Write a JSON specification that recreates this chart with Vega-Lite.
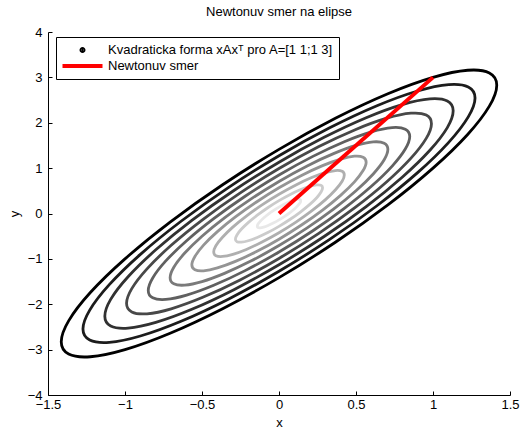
{
  "$schema": "https://vega.github.io/schema/vega-lite/v6.json",
  "width": 462,
  "height": 363,
  "autosize": {"type": "none"},
  "padding": {"left": 48, "top": 32, "right": 10, "bottom": 34},
  "background": "white",
  "config": {
    "view": {"stroke": null},
    "font": "Liberation Sans",
    "axis": {
      "grid": false,
      "domainColor": "black",
      "tickColor": "black",
      "labelColor": "black",
      "titleColor": "black",
      "labelFont": "Liberation Sans",
      "titleFont": "Liberation Sans",
      "labelFontSize": 13,
      "titleFontSize": 13,
      "titleFontWeight": "normal",
      "tickSize": -4,
      "labelFlush": false,
      "labelOverlap": false,
      "labelBound": false,
      "format": "~g"
    }
  },
  "title": {
    "text": "Newtonuv smer na elipse",
    "fontSize": 13,
    "fontWeight": "normal",
    "color": "black",
    "font": "Liberation Sans",
    "anchor": "middle",
    "offset": 7
  },
  "layer": [
    {
      "data": {
        "values": [
          {"lev":1,"i":0,"x":0.141,"y":0.283},{"lev":1,"i":1,"x":0.137,"y":0.310},{"lev":1,"i":2,"x":0.122,"y":0.316},{"lev":1,"i":3,"x":0.1,"y":0.3},{"lev":1,"i":4,"x":0.071,"y":0.264},{"lev":1,"i":5,"x":0.037,"y":0.210},{"lev":1,"i":6,"x":0,"y":0.141},{"lev":1,"i":7,"x":-0.037,"y":0.063},{"lev":1,"i":8,"x":-0.071,"y":-0.019},{"lev":1,"i":9,"x":-0.1,"y":-0.1},{"lev":1,"i":10,"x":-0.122,"y":-0.174},{"lev":1,"i":11,"x":-0.137,"y":-0.237},{"lev":1,"i":12,"x":-0.141,"y":-0.283},{"lev":1,"i":13,"x":-0.137,"y":-0.310},{"lev":1,"i":14,"x":-0.122,"y":-0.316},{"lev":1,"i":15,"x":-0.1,"y":-0.3},{"lev":1,"i":16,"x":-0.071,"y":-0.264},{"lev":1,"i":17,"x":-0.037,"y":-0.210},{"lev":1,"i":18,"x":0,"y":-0.141},{"lev":1,"i":19,"x":0.037,"y":-0.063},{"lev":1,"i":20,"x":0.071,"y":0.019},{"lev":1,"i":21,"x":0.1,"y":0.1},{"lev":1,"i":22,"x":0.122,"y":0.174},{"lev":1,"i":23,"x":0.137,"y":0.237},
          {"lev":2,"i":0,"x":0.283,"y":0.566},{"lev":2,"i":1,"x":0.273,"y":0.620},{"lev":2,"i":2,"x":0.245,"y":0.631},{"lev":2,"i":3,"x":0.2,"y":0.6},{"lev":2,"i":4,"x":0.141,"y":0.528},{"lev":2,"i":5,"x":0.073,"y":0.420},{"lev":2,"i":6,"x":0,"y":0.283},{"lev":2,"i":7,"x":-0.073,"y":0.127},{"lev":2,"i":8,"x":-0.141,"y":-0.038},{"lev":2,"i":9,"x":-0.2,"y":-0.2},{"lev":2,"i":10,"x":-0.245,"y":-0.348},{"lev":2,"i":11,"x":-0.273,"y":-0.473},{"lev":2,"i":12,"x":-0.283,"y":-0.566},{"lev":2,"i":13,"x":-0.273,"y":-0.620},{"lev":2,"i":14,"x":-0.245,"y":-0.631},{"lev":2,"i":15,"x":-0.2,"y":-0.6},{"lev":2,"i":16,"x":-0.141,"y":-0.528},{"lev":2,"i":17,"x":-0.073,"y":-0.420},{"lev":2,"i":18,"x":0,"y":-0.283},{"lev":2,"i":19,"x":0.073,"y":-0.127},{"lev":2,"i":20,"x":0.141,"y":0.038},{"lev":2,"i":21,"x":0.2,"y":0.2},{"lev":2,"i":22,"x":0.245,"y":0.348},{"lev":2,"i":23,"x":0.273,"y":0.473},
          {"lev":3,"i":0,"x":0.424,"y":0.849},{"lev":3,"i":1,"x":0.410,"y":0.929},{"lev":3,"i":2,"x":0.367,"y":0.947},{"lev":3,"i":3,"x":0.3,"y":0.9},{"lev":3,"i":4,"x":0.212,"y":0.792},{"lev":3,"i":5,"x":0.110,"y":0.629},{"lev":3,"i":6,"x":0,"y":0.424},{"lev":3,"i":7,"x":-0.110,"y":0.190},{"lev":3,"i":8,"x":-0.212,"y":-0.057},{"lev":3,"i":9,"x":-0.3,"y":-0.3},{"lev":3,"i":10,"x":-0.367,"y":-0.523},{"lev":3,"i":11,"x":-0.410,"y":-0.710},{"lev":3,"i":12,"x":-0.424,"y":-0.849},{"lev":3,"i":13,"x":-0.410,"y":-0.929},{"lev":3,"i":14,"x":-0.367,"y":-0.947},{"lev":3,"i":15,"x":-0.3,"y":-0.9},{"lev":3,"i":16,"x":-0.212,"y":-0.792},{"lev":3,"i":17,"x":-0.110,"y":-0.629},{"lev":3,"i":18,"x":0,"y":-0.424},{"lev":3,"i":19,"x":0.110,"y":-0.190},{"lev":3,"i":20,"x":0.212,"y":0.057},{"lev":3,"i":21,"x":0.3,"y":0.3},{"lev":3,"i":22,"x":0.367,"y":0.523},{"lev":3,"i":23,"x":0.410,"y":0.710},
          {"lev":4,"i":0,"x":0.566,"y":1.131},{"lev":4,"i":1,"x":0.546,"y":1.239},{"lev":4,"i":2,"x":0.490,"y":1.263},{"lev":4,"i":3,"x":0.4,"y":1.2},{"lev":4,"i":4,"x":0.283,"y":1.056},{"lev":4,"i":5,"x":0.146,"y":0.839},{"lev":4,"i":6,"x":0,"y":0.566},{"lev":4,"i":7,"x":-0.146,"y":0.254},{"lev":4,"i":8,"x":-0.283,"y":-0.076},{"lev":4,"i":9,"x":-0.4,"y":-0.4},{"lev":4,"i":10,"x":-0.490,"y":-0.697},{"lev":4,"i":11,"x":-0.546,"y":-0.946},{"lev":4,"i":12,"x":-0.566,"y":-1.131},{"lev":4,"i":13,"x":-0.546,"y":-1.239},{"lev":4,"i":14,"x":-0.490,"y":-1.263},{"lev":4,"i":15,"x":-0.4,"y":-1.2},{"lev":4,"i":16,"x":-0.283,"y":-1.056},{"lev":4,"i":17,"x":-0.146,"y":-0.839},{"lev":4,"i":18,"x":0,"y":-0.566},{"lev":4,"i":19,"x":0.146,"y":-0.254},{"lev":4,"i":20,"x":0.283,"y":0.076},{"lev":4,"i":21,"x":0.4,"y":0.4},{"lev":4,"i":22,"x":0.490,"y":0.697},{"lev":4,"i":23,"x":0.546,"y":0.946},
          {"lev":5,"i":0,"x":0.707,"y":1.414},{"lev":5,"i":1,"x":0.683,"y":1.549},{"lev":5,"i":2,"x":0.612,"y":1.578},{"lev":5,"i":3,"x":0.5,"y":1.5},{"lev":5,"i":4,"x":0.354,"y":1.319},{"lev":5,"i":5,"x":0.183,"y":1.049},{"lev":5,"i":6,"x":0,"y":0.707},{"lev":5,"i":7,"x":-0.183,"y":0.317},{"lev":5,"i":8,"x":-0.354,"y":-0.095},{"lev":5,"i":9,"x":-0.5,"y":-0.5},{"lev":5,"i":10,"x":-0.612,"y":-0.871},{"lev":5,"i":11,"x":-0.683,"y":-1.183},{"lev":5,"i":12,"x":-0.707,"y":-1.414},{"lev":5,"i":13,"x":-0.683,"y":-1.549},{"lev":5,"i":14,"x":-0.612,"y":-1.578},{"lev":5,"i":15,"x":-0.5,"y":-1.5},{"lev":5,"i":16,"x":-0.354,"y":-1.319},{"lev":5,"i":17,"x":-0.183,"y":-1.049},{"lev":5,"i":18,"x":0,"y":-0.707},{"lev":5,"i":19,"x":0.183,"y":-0.317},{"lev":5,"i":20,"x":0.354,"y":0.095},{"lev":5,"i":21,"x":0.5,"y":0.5},{"lev":5,"i":22,"x":0.612,"y":0.871},{"lev":5,"i":23,"x":0.683,"y":1.183},
          {"lev":6,"i":0,"x":0.849,"y":1.697},{"lev":6,"i":1,"x":0.820,"y":1.859},{"lev":6,"i":2,"x":0.735,"y":1.894},{"lev":6,"i":3,"x":0.6,"y":1.8},{"lev":6,"i":4,"x":0.424,"y":1.583},{"lev":6,"i":5,"x":0.220,"y":1.259},{"lev":6,"i":6,"x":0,"y":0.849},{"lev":6,"i":7,"x":-0.220,"y":0.380},{"lev":6,"i":8,"x":-0.424,"y":-0.114},{"lev":6,"i":9,"x":-0.6,"y":-0.6},{"lev":6,"i":10,"x":-0.735,"y":-1.045},{"lev":6,"i":11,"x":-0.820,"y":-1.420},{"lev":6,"i":12,"x":-0.849,"y":-1.697},{"lev":6,"i":13,"x":-0.820,"y":-1.859},{"lev":6,"i":14,"x":-0.735,"y":-1.894},{"lev":6,"i":15,"x":-0.6,"y":-1.8},{"lev":6,"i":16,"x":-0.424,"y":-1.583},{"lev":6,"i":17,"x":-0.220,"y":-1.259},{"lev":6,"i":18,"x":0,"y":-0.849},{"lev":6,"i":19,"x":0.220,"y":-0.380},{"lev":6,"i":20,"x":0.424,"y":0.114},{"lev":6,"i":21,"x":0.6,"y":0.6},{"lev":6,"i":22,"x":0.735,"y":1.045},{"lev":6,"i":23,"x":0.820,"y":1.420},
          {"lev":7,"i":0,"x":0.990,"y":1.980},{"lev":7,"i":1,"x":0.956,"y":2.169},{"lev":7,"i":2,"x":0.857,"y":2.210},{"lev":7,"i":3,"x":0.7,"y":2.1},{"lev":7,"i":4,"x":0.495,"y":1.847},{"lev":7,"i":5,"x":0.256,"y":1.469},{"lev":7,"i":6,"x":0,"y":0.990},{"lev":7,"i":7,"x":-0.256,"y":0.444},{"lev":7,"i":8,"x":-0.495,"y":-0.133},{"lev":7,"i":9,"x":-0.7,"y":-0.7},{"lev":7,"i":10,"x":-0.857,"y":-1.220},{"lev":7,"i":11,"x":-0.956,"y":-1.656},{"lev":7,"i":12,"x":-0.990,"y":-1.980},{"lev":7,"i":13,"x":-0.956,"y":-2.169},{"lev":7,"i":14,"x":-0.857,"y":-2.210},{"lev":7,"i":15,"x":-0.7,"y":-2.1},{"lev":7,"i":16,"x":-0.495,"y":-1.847},{"lev":7,"i":17,"x":-0.256,"y":-1.469},{"lev":7,"i":18,"x":0,"y":-0.990},{"lev":7,"i":19,"x":0.256,"y":-0.444},{"lev":7,"i":20,"x":0.495,"y":0.133},{"lev":7,"i":21,"x":0.7,"y":0.7},{"lev":7,"i":22,"x":0.857,"y":1.220},{"lev":7,"i":23,"x":0.956,"y":1.656},
          {"lev":8,"i":0,"x":1.131,"y":2.263},{"lev":8,"i":1,"x":1.093,"y":2.478},{"lev":8,"i":2,"x":0.980,"y":2.525},{"lev":8,"i":3,"x":0.8,"y":2.4},{"lev":8,"i":4,"x":0.566,"y":2.111},{"lev":8,"i":5,"x":0.293,"y":1.678},{"lev":8,"i":6,"x":0,"y":1.131},{"lev":8,"i":7,"x":-0.293,"y":0.507},{"lev":8,"i":8,"x":-0.566,"y":-0.152},{"lev":8,"i":9,"x":-0.8,"y":-0.8},{"lev":8,"i":10,"x":-0.980,"y":-1.394},{"lev":8,"i":11,"x":-1.093,"y":-1.893},{"lev":8,"i":12,"x":-1.131,"y":-2.263},{"lev":8,"i":13,"x":-1.093,"y":-2.478},{"lev":8,"i":14,"x":-0.980,"y":-2.525},{"lev":8,"i":15,"x":-0.8,"y":-2.4},{"lev":8,"i":16,"x":-0.566,"y":-2.111},{"lev":8,"i":17,"x":-0.293,"y":-1.678},{"lev":8,"i":18,"x":0,"y":-1.131},{"lev":8,"i":19,"x":0.293,"y":-0.507},{"lev":8,"i":20,"x":0.566,"y":0.152},{"lev":8,"i":21,"x":0.8,"y":0.8},{"lev":8,"i":22,"x":0.980,"y":1.394},{"lev":8,"i":23,"x":1.093,"y":1.893},
          {"lev":9,"i":0,"x":1.273,"y":2.546},{"lev":9,"i":1,"x":1.229,"y":2.788},{"lev":9,"i":2,"x":1.102,"y":2.841},{"lev":9,"i":3,"x":0.9,"y":2.7},{"lev":9,"i":4,"x":0.636,"y":2.375},{"lev":9,"i":5,"x":0.329,"y":1.888},{"lev":9,"i":6,"x":0,"y":1.273},{"lev":9,"i":7,"x":-0.329,"y":0.571},{"lev":9,"i":8,"x":-0.636,"y":-0.171},{"lev":9,"i":9,"x":-0.9,"y":-0.9},{"lev":9,"i":10,"x":-1.102,"y":-1.568},{"lev":9,"i":11,"x":-1.229,"y":-2.129},{"lev":9,"i":12,"x":-1.273,"y":-2.546},{"lev":9,"i":13,"x":-1.229,"y":-2.788},{"lev":9,"i":14,"x":-1.102,"y":-2.841},{"lev":9,"i":15,"x":-0.9,"y":-2.7},{"lev":9,"i":16,"x":-0.636,"y":-2.375},{"lev":9,"i":17,"x":-0.329,"y":-1.888},{"lev":9,"i":18,"x":0,"y":-1.273},{"lev":9,"i":19,"x":0.329,"y":-0.571},{"lev":9,"i":20,"x":0.636,"y":0.171},{"lev":9,"i":21,"x":0.9,"y":0.9},{"lev":9,"i":22,"x":1.102,"y":1.568},{"lev":9,"i":23,"x":1.229,"y":2.129},
          {"lev":10,"i":0,"x":1.414,"y":2.828},{"lev":10,"i":1,"x":1.366,"y":3.098},{"lev":10,"i":2,"x":1.225,"y":3.157},{"lev":10,"i":3,"x":1.0,"y":3.0},{"lev":10,"i":4,"x":0.707,"y":2.639},{"lev":10,"i":5,"x":0.366,"y":2.098},{"lev":10,"i":6,"x":0,"y":1.414},{"lev":10,"i":7,"x":-0.366,"y":0.634},{"lev":10,"i":8,"x":-0.707,"y":-0.189},{"lev":10,"i":9,"x":-1.0,"y":-1.0},{"lev":10,"i":10,"x":-1.225,"y":-1.742},{"lev":10,"i":11,"x":-1.366,"y":-2.366},{"lev":10,"i":12,"x":-1.414,"y":-2.828},{"lev":10,"i":13,"x":-1.366,"y":-3.098},{"lev":10,"i":14,"x":-1.225,"y":-3.157},{"lev":10,"i":15,"x":-1.0,"y":-3.0},{"lev":10,"i":16,"x":-0.707,"y":-2.639},{"lev":10,"i":17,"x":-0.366,"y":-2.098},{"lev":10,"i":18,"x":0,"y":-1.414},{"lev":10,"i":19,"x":0.366,"y":-0.634},{"lev":10,"i":20,"x":0.707,"y":0.189},{"lev":10,"i":21,"x":1.0,"y":1.0},{"lev":10,"i":22,"x":1.225,"y":1.742},{"lev":10,"i":23,"x":1.366,"y":2.366}
        ]
      },
      "mark": {"type": "line", "interpolate": "cardinal-closed", "strokeWidth": 2.8},
      "encoding": {
        "x": {"field": "x", "type": "quantitative", "scale": {"domain": [-1.5, 1.5], "nice": false, "zero": false},
              "axis": {"title": "x", "values": [-1.5, -1, -0.5, 0, 0.5, 1, 1.5], "labelPadding": 7, "titlePadding": 5}},
        "y": {"field": "y", "type": "quantitative", "scale": {"domain": [-4, 4], "nice": false, "zero": false},
              "axis": {"title": "y", "values": [-4, -3, -2, -1, 0, 1, 2, 3, 4], "labelPadding": 10, "titlePadding": 6}},
        "order": {"field": "i", "type": "quantitative"},
        "detail": {"field": "lev", "type": "nominal"},
        "stroke": {"field": "lev", "type": "quantitative", "scale": {"domain": [1, 10], "range": ["#e8e8e8", "#000000"]}, "legend": null}
      }
    },
    {
      "data": {"values": [{"x": 0, "y": 0}, {"x": 1, "y": 3}]},
      "mark": {"type": "line", "strokeWidth": 4, "strokeCap": "butt"},
      "encoding": {
        "x": {"field": "x", "type": "quantitative"},
        "y": {"field": "y", "type": "quantitative"},
        "color": {
          "datum": "Newtonuv smer",
          "type": "nominal",
          "scale": {"domain": ["Kvadraticka forma xAxᵀ pro A=[1 1;1 3]", "Newtonuv smer"], "range": ["#000000", "#ff0000"]},
          "legend": {
            "title": null,
            "orient": "none",
            "direction": "vertical",
            "columns": 1,
            "legendX": 8,
            "legendY": 5,
            "strokeColor": "black",
            "fillColor": "white",
            "padding": 6,
            "symbolSize": 64,
            "symbolStrokeWidth": 4,
            "symbolOffset": 14,
            "clipHeight": 14,
            "labelFont": "Liberation Sans",
            "labelFontSize": 13,
            "labelColor": "black",
            "labelOffset": 19,
            "labelLimit": 500,
            "rowPadding": 2,
            "encode": {
              "symbols": {
                "update": {
                  "shape": {"signal": "datum.value === 'Newtonuv smer' ? 'M-5,0H5' : 'M-0.25,0A0.25,0.25,0,1,1,0.25,0A0.25,0.25,0,1,1,-0.25,0Z'"},
                  "fill": {"signal": "datum.value === 'Newtonuv smer' ? 'transparent' : 'black'"},
                  "stroke": {"signal": "datum.value === 'Newtonuv smer' ? '#ff0000' : 'transparent'"}
                }
              }
            }
          }
        }
      }
    }
  ]
}
